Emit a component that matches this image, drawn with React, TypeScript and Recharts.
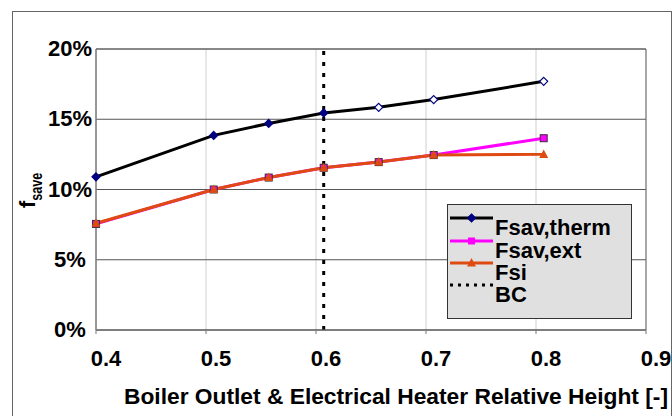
import React from "react"
import {
  LineChart,
  Line,
  XAxis,
  YAxis,
  CartesianGrid,
  ReferenceLine,
  ReferenceArea,
} from "recharts"

const xValues = [0.4, 0.507, 0.557, 0.607, 0.657, 0.707, 0.807]
const fsavTherm = [10.9, 13.85, 14.7, 15.45, 15.85, 16.4, 17.7]
const fsavExt = [7.55, 10.0, 10.85, 11.55, 11.95, 12.45, 13.65]
const fsi = [7.6, 10.0, 10.85, 11.55, 11.95, 12.45, 12.5]
const bcHeight = 0.607

const xTicks = [0.4, 0.5, 0.6, 0.7, 0.8, 0.9]
const yTicks = [0, 5, 10, 15, 20]

const seriesNames = ["Fsav,therm", "Fsav,ext", "Fsi", "BC"]
const xTitle = "Boiler Outlet & Electrical Heater Relative Height [-]"

const FONT = "Arial, 'Liberation Sans', sans-serif"
const ORANGE = "#df4a12"
const PINK = "#ff00ff"
const NAVY = "#000080"

const chartData = xValues.map((x, i) => ({
  x,
  therm: fsavTherm[i],
  ext: fsavExt[i],
  si: fsi[i],
}))

const Diamond = (props: any) => {
  const { cx, cy, index } = props
  if (cx == null || cy == null) return null
  const r = 4
  return (
    <path
      key={`d-${index}`}
      d={`M${cx},${cy - r} L${cx + r},${cy} L${cx},${cy + r} L${cx - r},${cy} Z`}
      fill={index >= 4 ? "#fff" : NAVY}
      stroke={NAVY}
      strokeWidth={1.2}
    />
  )
}

const Square = (props: any) => {
  const { cx, cy, index } = props
  if (cx == null || cy == null) return null
  return (
    <rect key={`s-${index}`} x={cx - 3.5} y={cy - 3.5} width={7} height={7} fill={PINK} stroke="#333" strokeWidth={1} />
  )
}

const Triangle = (props: any) => {
  const { cx, cy, index } = props
  if (cx == null || cy == null) return null
  return (
    <path
      key={`t-${index}`}
      d={`M${cx},${cy - 5} L${cx + 4.5},${cy + 3.5} L${cx - 4.5},${cy + 3.5} Z`}
      fill={ORANGE}
    />
  )
}

const XTick = (props: any) => {
  const { x, y, payload } = props
  return (
    <text x={x + 10} y={y} dy={30} textAnchor="middle" fontFamily={FONT} fontWeight="bold" fontSize={22} fill="#000">
      {payload.value.toFixed(1)}
    </text>
  )
}

const YTick = (props: any) => {
  const { y, payload } = props
  return (
    <text x={70} y={y} dy={7} textAnchor="middle" fontFamily={FONT} fontWeight="bold" fontSize={22} fill="#000">
      {payload.value}%
    </text>
  )
}

// legend box drawn over the plot, bottom right
const LegendBox = () => {
  const rowY = [14, 37, 59, 81]
  return (
    <svg width={186} height={116} style={{ position: "absolute", left: 447, top: 204 }}>
      <rect x={0.5} y={0.5} width={184} height={114} fill="#e0e0e0" stroke="#333" />
      <line x1={3} x2={46} y1={rowY[0]} y2={rowY[0]} stroke="#000" strokeWidth={3} />
      <Diamond cx={24.5} cy={rowY[0]} index={0} />
      <line x1={3} x2={46} y1={rowY[1]} y2={rowY[1]} stroke={PINK} strokeWidth={3} />
      <rect x={21} y={rowY[1] - 3.5} width={7} height={7} fill={PINK} />
      <line x1={3} x2={46} y1={rowY[2]} y2={rowY[2]} stroke={ORANGE} strokeWidth={3} />
      <Triangle cx={24.5} cy={rowY[2]} index={0} />
      <line x1={3} x2={46} y1={rowY[3]} y2={rowY[3]} stroke="#000" strokeWidth={3} strokeDasharray="3 5" />
      {seriesNames.map((name, i) => (
        <text key={name} x={48} y={rowY[i] + 17} fontFamily={FONT} fontWeight="bold" fontSize={22} fill="#000">
          {name}
        </text>
      ))}
    </svg>
  )
}

export default function App() {
  return (
    <div style={{ position: "absolute", left: 0, top: 0, width: 672, height: 416, overflow: "hidden", background: "#fff" }}>
      <div
        style={{
          position: "absolute",
          left: 12,
          top: 11,
          width: 658,
          height: 420,
          border: "1px solid #666",
        }}
      />
      <div style={{ position: "absolute", left: 0, top: 0 }}>
        <LineChart width={672} height={416} data={chartData} margin={{ top: 49, right: 26, left: 0, bottom: 0 }}>
          <CartesianGrid horizontal={false} stroke="#d0d0d0" strokeWidth={1} />
          <CartesianGrid vertical={false} stroke="#555" strokeWidth={1} />
          <ReferenceArea x1={0.4} x2={0.9} y1={0} y2={20} fill="none" stroke="#666" strokeWidth={1} />
          <XAxis
            type="number"
            dataKey="x"
            domain={[0.4, 0.9]}
            ticks={xTicks}
            height={86}
            tick={<XTick />}
            tickSize={4}
            stroke="#777"
            interval={0}
          />
          <YAxis
            type="number"
            domain={[0, 20]}
            ticks={yTicks}
            width={96}
            tick={<YTick />}
            tickLine={false}
            stroke="#888"
            interval={0}
          />
          <ReferenceLine x={bcHeight} stroke="#000" strokeWidth={3} strokeDasharray="4 7" />
          <Line dataKey="therm" stroke="#000" strokeWidth={3} dot={<Diamond />} isAnimationActive={false} />
          <Line dataKey="ext" stroke={PINK} strokeWidth={3} dot={<Square />} isAnimationActive={false} />
          <Line dataKey="si" stroke={ORANGE} strokeWidth={3} dot={<Triangle />} isAnimationActive={false} />
        </LineChart>
      </div>
      <LegendBox />
      <svg width={672} height={416} style={{ position: "absolute", left: 0, top: 0, pointerEvents: "none" }}>
        <text
          x={124}
          y={404}
          textLength={544}
          lengthAdjust="spacingAndGlyphs"
          fontFamily={FONT}
          fontWeight="bold"
          fontSize={22}
          fill="#000"
        >
          {xTitle}
        </text>
        <text transform="rotate(-90)" x={-208} y={35} fontFamily={FONT} fontWeight="bold" fill="#000">
          <tspan fontSize={22}>f</tspan>
          <tspan fontSize={16} dy={7} textLength={28} lengthAdjust="spacingAndGlyphs">save</tspan>
        </text>
      </svg>
    </div>
  )
}
